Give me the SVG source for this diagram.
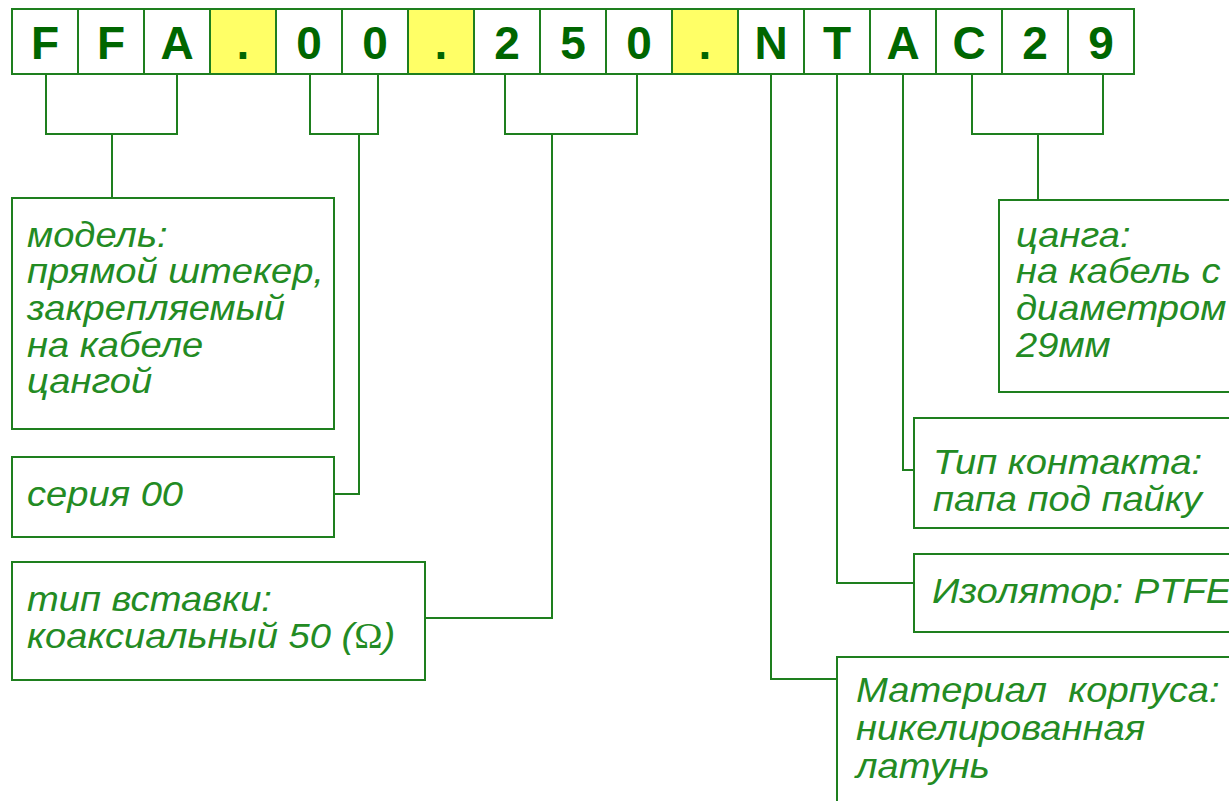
<svg xmlns="http://www.w3.org/2000/svg" width="1229" height="801" viewBox="0 0 1229 801">
<style>
.cell{fill:#ffffff;stroke:#1e7f1e;stroke-width:2}
.dot{fill:#ffff66;stroke:#1e7f1e;stroke-width:2}
.ch{font-family:"Liberation Sans",Arial,sans-serif;font-weight:bold;font-size:46px;fill:#006600;text-anchor:middle}
.box{fill:#ffffff;stroke:#1e7f1e;stroke-width:2}
.t{font-family:"Liberation Sans",Arial,sans-serif;font-style:italic;font-size:35px;fill:#238b23;white-space:pre}
.om{font-family:"Liberation Serif","Times New Roman",serif;font-style:normal}
.ln{fill:none;stroke:#1e7f1e;stroke-width:2}
</style>
<rect width="1229" height="801" fill="#ffffff"/>
<g id="code">
<rect class="cell" x="12" y="9" width="66" height="65"/><text class="ch" x="45" y="59">F</text>
<rect class="cell" x="78" y="9" width="66" height="65"/><text class="ch" x="111" y="59">F</text>
<rect class="cell" x="144" y="9" width="66" height="65"/><text class="ch" x="177" y="59">A</text>
<rect class="dot" x="210" y="9" width="66" height="65"/><text class="ch" x="243" y="59">.</text>
<rect class="cell" x="276" y="9" width="66" height="65"/><text class="ch" x="309" y="59">0</text>
<rect class="cell" x="342" y="9" width="66" height="65"/><text class="ch" x="375" y="59">0</text>
<rect class="dot" x="408" y="9" width="66" height="65"/><text class="ch" x="441" y="59">.</text>
<rect class="cell" x="474" y="9" width="66" height="65"/><text class="ch" x="507" y="59">2</text>
<rect class="cell" x="540" y="9" width="66" height="65"/><text class="ch" x="573" y="59">5</text>
<rect class="cell" x="606" y="9" width="66" height="65"/><text class="ch" x="639" y="59">0</text>
<rect class="dot" x="672" y="9" width="66" height="65"/><text class="ch" x="705" y="59">.</text>
<rect class="cell" x="738" y="9" width="66" height="65"/><text class="ch" x="771" y="59">N</text>
<rect class="cell" x="804" y="9" width="66" height="65"/><text class="ch" x="837" y="59">T</text>
<rect class="cell" x="870" y="9" width="66" height="65"/><text class="ch" x="903" y="59">A</text>
<rect class="cell" x="936" y="9" width="66" height="65"/><text class="ch" x="969" y="59">C</text>
<rect class="cell" x="1002" y="9" width="66" height="65"/><text class="ch" x="1035" y="59">2</text>
<rect class="cell" x="1068" y="9" width="66" height="65"/><text class="ch" x="1101" y="59">9</text>
</g>
<g id="connectors">
<path class="ln" d="M46,74 V134 H177 V74 M112,134 V198"/>
<path class="ln" d="M310,74 V134 H378 V74 M359,134 V494 H334"/>
<path class="ln" d="M505,74 V134 H637 V74 M552,134 V618 H425"/>
<path class="ln" d="M771,74 V679 H837"/>
<path class="ln" d="M837,74 V583 H914"/>
<path class="ln" d="M903,74 V470 H914"/>
<path class="ln" d="M972,74 V134 H1103 V74 M1038,134 V200"/>
</g>
<g id="node-model">
<rect class="box" x="12" y="198" width="322" height="231"/>
<text class="t" transform="translate(27 247) scale(1.09 1)">модель:</text>
<text class="t" transform="translate(27 283) scale(1.09 1)">прямой штекер,</text>
<text class="t" transform="translate(27 320) scale(1.09 1)">закрепляемый</text>
<text class="t" transform="translate(27 357) scale(1.09 1)">на кабеле</text>
<text class="t" transform="translate(27 393) scale(1.09 1)">цангой</text>
</g>
<g id="node-series">
<rect class="box" x="12" y="457" width="322" height="80"/>
<text class="t" transform="translate(27 506) scale(1.09 1)">серия 00</text>
</g>
<g id="node-insert">
<rect class="box" x="12" y="562" width="413" height="118"/>
<text class="t" transform="translate(27 611) scale(1.09 1)">тип вставки:</text>
<text class="t" transform="translate(27 648) scale(1.09 1)">коаксиальный 50 (<tspan class="om">Ω</tspan>)</text>
</g>
<g id="node-collet">
<rect class="box" x="999" y="200" width="260" height="192"/>
<text class="t" transform="translate(1016 247) scale(1.09 1)">цанга:</text>
<text class="t" transform="translate(1016 283) scale(1.09 1)">на кабель с</text>
<text class="t" transform="translate(1016 320) scale(1.09 1)">диаметром</text>
<text class="t" transform="translate(1016 357) scale(1.09 1)">29мм</text>
</g>
<g id="node-contact">
<rect class="box" x="914" y="418" width="340" height="110"/>
<text class="t" transform="translate(933 474) scale(1.09 1)">Тип контакта:</text>
<text class="t" transform="translate(933 511) scale(1.09 1)">папа под пайку</text>
</g>
<g id="node-insulator">
<rect class="box" x="914" y="554" width="340" height="78"/>
<text class="t" transform="translate(932 603) scale(1.09 1)">Изолятор: PTFE</text>
</g>
<g id="node-body">
<rect class="box" x="837" y="657" width="420" height="170"/>
<text class="t" transform="translate(856 702) scale(1.09 1)">Материал  корпуса:</text>
<text class="t" transform="translate(856 740) scale(1.09 1)">никелированная</text>
<text class="t" transform="translate(856 778) scale(1.09 1)">латунь</text>
</g>
</svg>
